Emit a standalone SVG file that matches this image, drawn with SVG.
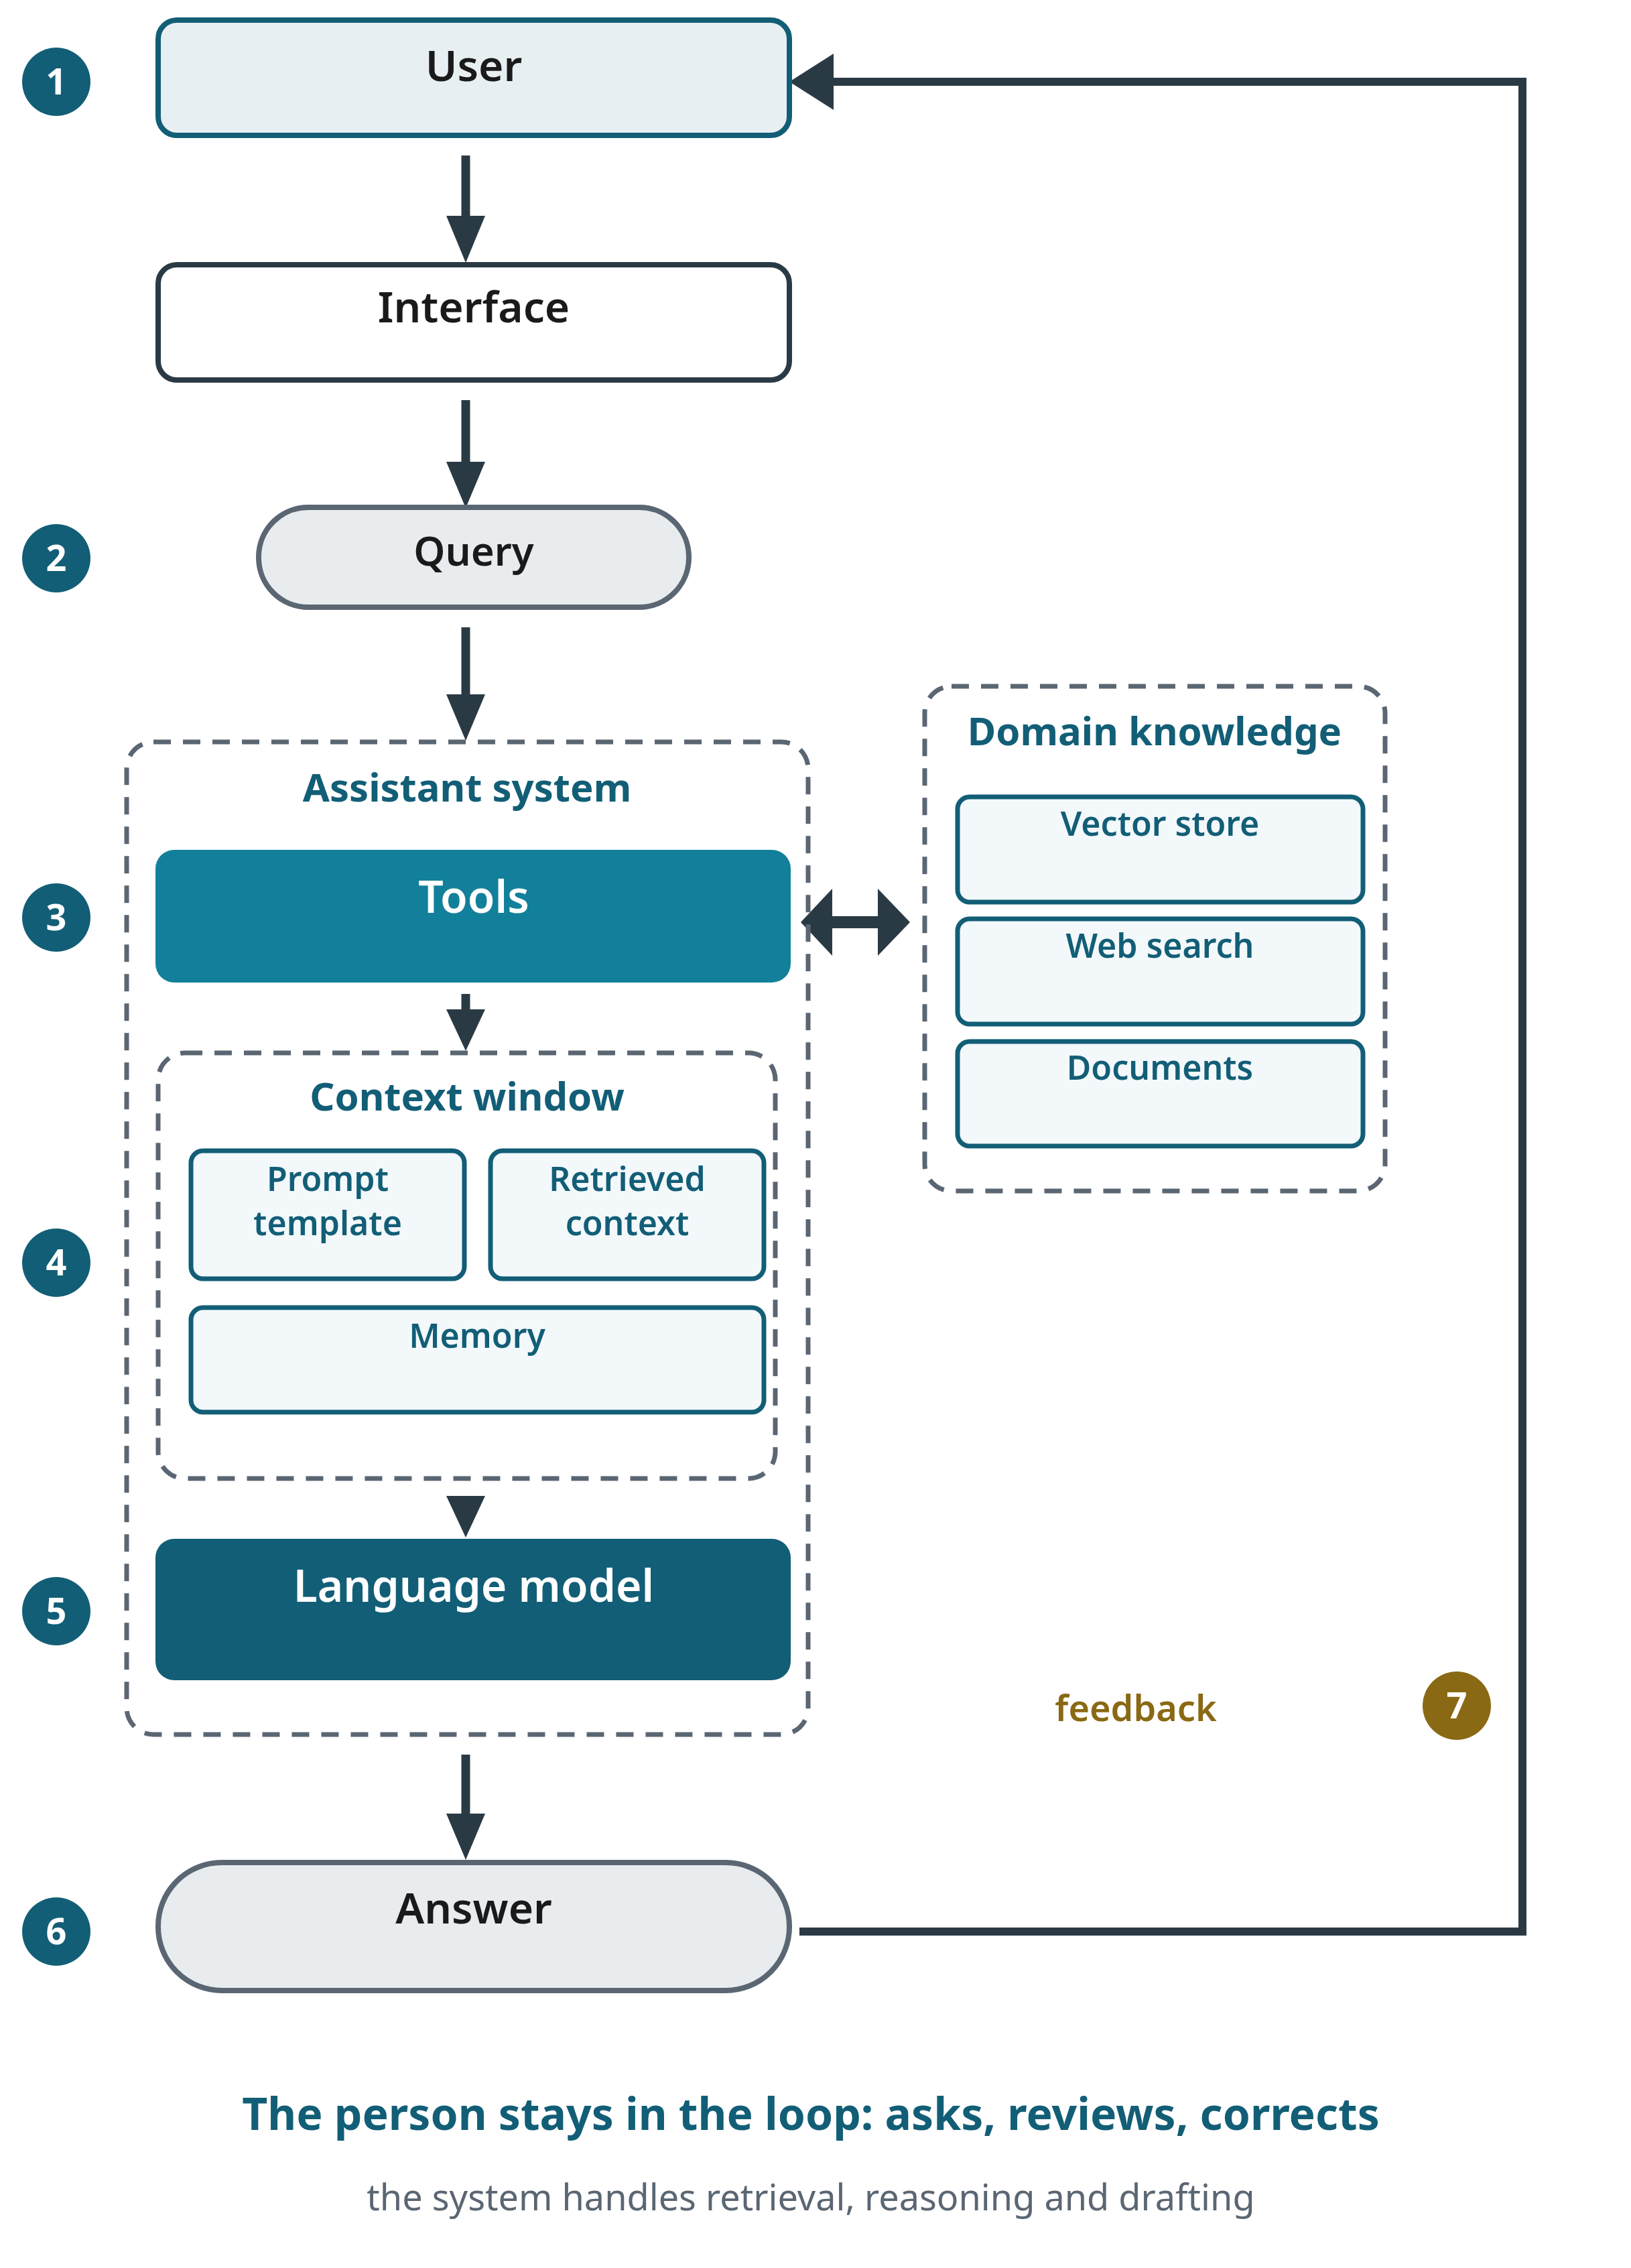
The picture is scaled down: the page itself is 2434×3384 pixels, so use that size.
<svg xmlns="http://www.w3.org/2000/svg" width="2434" height="3384" viewBox="0 0 2434 3384">
<style>
text{font-family:"Noto Sans","Liberation Sans",sans-serif;text-anchor:middle}
.b{fill:#125e76}.bt{fill:#fff;font-size:54px;font-weight:700}
.dash{fill:none;stroke:#5b6673;stroke-width:7;stroke-dasharray:26 18}
.sub{fill:#f3f8fb;stroke:#125e76;stroke-width:7}
.st{fill:#125e76;font-size:50px;font-weight:600}
.gt{fill:#125e76;font-size:58px;font-weight:700}
.sh{stroke:#2a3a45;stroke-width:13}
.hd{fill:#2a3a45}
</style>
<g id="connectors">
<path d="M695 232 V330" class="sh"/><path class="hd" d="M666 322 H724 L695 392 Z"/>
<path d="M695 597 V697" class="sh"/><path class="hd" d="M666 689 H724 L695 758 Z"/>
<path d="M695 936 V1045" class="sh"/><path class="hd" d="M666 1036 H724 L695 1105 Z"/>
<path d="M695 1483 V1512" class="sh"/><path class="hd" d="M666 1506 H724 L695 1568 Z"/>
<path class="hd" d="M666 2232 H724 L695 2294 Z"/>
<path d="M695 2618 V2715" class="sh"/><path class="hd" d="M666 2706 H724 L695 2775 Z"/>
<path d="M1240 1376 H1310" stroke="#2a3a45" stroke-width="18"/>
<path class="hd" d="M1195 1376 L1242 1326 V1426 Z"/><path class="hd" d="M1358 1376 L1310 1326 V1426 Z"/>
<path d="M1193 2882 H2272 V122 H1240" stroke="#2a3a45" stroke-width="12" fill="none"/>
<path class="hd" d="M1178 122 L1244 80 V164 Z"/>
</g>
<g id="badges">
<circle cx="84" cy="122" r="51" class="b"/><text x="84" y="141" class="bt">1</text>
<circle cx="84" cy="833" r="51" class="b"/><text x="84" y="852" class="bt">2</text>
<circle cx="84" cy="1369" r="51" class="b"/><text x="84" y="1388" class="bt">3</text>
<circle cx="84" cy="1884" r="51" class="b"/><text x="84" y="1903" class="bt">4</text>
<circle cx="84" cy="2404" r="51" class="b"/><text x="84" y="2423" class="bt">5</text>
<circle cx="84" cy="2882" r="51" class="b"/><text x="84" y="2901" class="bt">6</text>
<circle cx="2174" cy="2545" r="51" fill="#8a6914"/><text x="2174" y="2564" class="bt">7</text>
</g>
<g id="user"><rect x="236" y="30" width="942" height="172" rx="28" fill="#e8eff2" stroke="#125e76" stroke-width="8"/><text x="707" y="121" font-size="64" font-weight="600" fill="#1a1a1a">User</text></g>
<g id="interface"><rect x="236" y="395" width="942" height="172" rx="28" fill="#fff" stroke="#2a3a45" stroke-width="8"/><text x="707" y="481" font-size="64" font-weight="600" fill="#1a1a1a">Interface</text></g>
<g id="query"><rect x="386" y="757" width="642" height="149" rx="74" fill="#e8ecef" stroke="#5b6673" stroke-width="8"/><text x="707" y="844" font-size="60" font-weight="600" fill="#1a1a1a">Query</text></g>
<g id="assistant"><rect x="189" y="1107" width="1017" height="1481" rx="40" class="dash"/><text x="697" y="1196" class="gt">Assistant system</text></g>
<g id="tools"><rect x="232" y="1268" width="948" height="198" rx="28" fill="#13809b"/><text x="707" y="1362" font-size="66" font-weight="600" fill="#fff">Tools</text></g>
<g id="context"><rect x="236" y="1571" width="921" height="635" rx="40" class="dash"/><text x="697" y="1657" class="gt">Context window</text></g>
<g id="prompt"><rect x="285" y="1717" width="408" height="191" rx="18" class="sub"/><text x="489" y="1777" class="st">Prompt</text><text x="489" y="1843" class="st">template</text></g>
<g id="retrieved"><rect x="732" y="1717" width="408" height="191" rx="18" class="sub"/><text x="936" y="1777" class="st">Retrieved</text><text x="936" y="1843" class="st">context</text></g>
<g id="memory"><rect x="285" y="1951" width="855" height="156" rx="18" class="sub"/><text x="712" y="2011" class="st">Memory</text></g>
<g id="lm"><rect x="232" y="2296" width="948" height="211" rx="28" fill="#125e76"/><text x="707" y="2390" font-size="66" font-weight="600" fill="#fff">Language model</text></g>
<g id="answer"><rect x="236" y="2779" width="942" height="191" rx="95" fill="#e8ecef" stroke="#5b6673" stroke-width="8"/><text x="707" y="2870" font-size="64" font-weight="600" fill="#1a1a1a">Answer</text></g>
<g id="domain"><rect x="1380" y="1024" width="687" height="753" rx="40" class="dash"/><text x="1723" y="1112" class="gt">Domain knowledge</text></g>
<g id="vector"><rect x="1429" y="1189" width="605" height="157" rx="18" class="sub"/><text x="1731" y="1247" class="st">Vector store</text></g>
<g id="web"><rect x="1429" y="1371" width="605" height="157" rx="18" class="sub"/><text x="1731" y="1429" class="st">Web search</text></g>
<g id="docs"><rect x="1429" y="1554" width="605" height="156" rx="18" class="sub"/><text x="1731" y="1611" class="st">Documents</text></g>
<text x="1695" y="2568" font-size="54" font-weight="600" fill="#8a6914">feedback</text>
<text x="1210" y="3178" font-size="66" font-weight="700" fill="#125e76">The person stays in the loop: asks, reviews, corrects</text>
<text x="1210" y="3298" font-size="54" fill="#5b6673">the system handles retrieval, reasoning and drafting</text>
</svg>
